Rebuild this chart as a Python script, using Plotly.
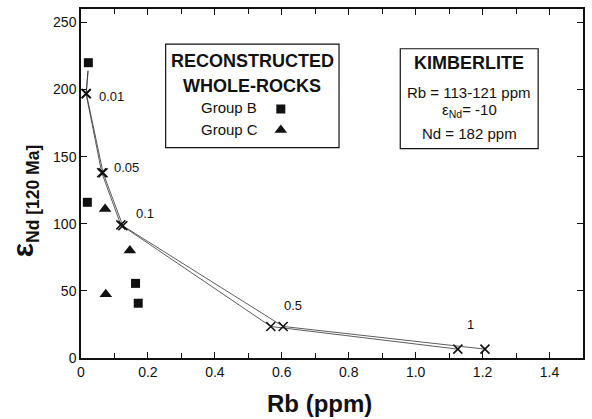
import plotly.graph_objects as go

# Reconstructed whole-rock data (Rb in ppm, epsilon Nd at 120 Ma)
group_b_rb = [0.022, 0.019, 0.163, 0.171]
group_b_eps = [220, 116, 55.6, 40.8]
group_c_rb = [0.072, 0.146, 0.074]
group_c_eps = [111, 80, 47.5]

# Kimberlite mixing curves (first point is the unmixed end-member)
mix_labels = ["0.01", "0.05", "0.1", "0.5", "1"]
curve_lo_rb = [0.021, 0.015, 0.062, 0.119, 0.567, 1.126]
curve_lo_eps = [214, 197, 138, 99.2, 23.5, 6.6]
curve_hi_rb = [0.021, 0.016, 0.066, 0.125, 0.604, 1.207]
curve_hi_eps = [214, 197, 138, 98.5, 23.5, 6.6]

# Where each mixing-fraction label sits
label_rb = [0.048, 0.092, 0.158, 0.601, 1.148]
label_eps = [195, 142, 108, 39, 25]

x_ticks = [0, 0.2, 0.4, 0.6, 0.8, 1.0, 1.2, 1.4]
x_tick_text = ["0", "0.2", "0.4", "0.6", "0.8", "1.0", "1.2", "1.4"]
y_ticks = [0, 50, 100, 150, 200, 250]

FONT = "Liberation Sans, Arial, Helvetica, sans-serif"
INK = "#111111"
LINE = "#333333"

fig = go.Figure()

for rb, eps in [(curve_lo_rb, curve_lo_eps), (curve_hi_rb, curve_hi_eps)]:
    fig.add_trace(go.Scatter(x=rb, y=eps, mode="lines",
                             line=dict(color=LINE, width=0.8),
                             showlegend=False, hoverinfo="skip"))
    fig.add_trace(go.Scatter(x=rb[1:], y=eps[1:], mode="markers",
                             marker=dict(symbol="x-thin", size=9,
                                         line=dict(color=INK, width=1.6)),
                             showlegend=False))

fig.add_trace(go.Scatter(x=group_b_rb, y=group_b_eps, mode="markers",
                         marker=dict(symbol="square", size=9, color=INK),
                         name="Group B", showlegend=False))
fig.add_trace(go.Scatter(x=group_c_rb, y=group_c_eps, mode="markers",
                         marker=dict(symbol="triangle-up", size=11, color=INK),
                         name="Group C", showlegend=False))

annotations = []
for txt, x, y in zip(mix_labels, label_rb, label_eps):
    annotations.append(dict(x=x, y=y, xref="x", yref="y", text=txt,
                            showarrow=False, xanchor="left", yanchor="middle",
                            font=dict(family=FONT, size=13, color=INK)))

# Box: reconstructed whole-rocks key
fig.add_shape(type="rect", xref="x", yref="y", x0=0.253, x1=0.771,
              y0=156.8, y1=233.9, line=dict(color=INK, width=1.2))
for txt, y in [("<b>RECONSTRUCTED</b>", 221.3), ("<b>WHOLE-ROCKS</b>", 202.7)]:
    annotations.append(dict(x=0.512, y=y, xref="x", yref="y", text=txt,
                            showarrow=False, xanchor="center", yanchor="middle",
                            font=dict(family=FONT, size=18, color=INK)))
for txt, y in [("Group B", 186.4), ("Group C", 170.6)]:
    annotations.append(dict(x=0.443, y=y, xref="x", yref="y", text=txt,
                            showarrow=False, xanchor="center", yanchor="middle",
                            font=dict(family=FONT, size=15, color=INK)))
fig.add_trace(go.Scatter(x=[0.597], y=[185.5], mode="markers",
                         marker=dict(symbol="square", size=9, color=INK),
                         showlegend=False, hoverinfo="skip"))
fig.add_trace(go.Scatter(x=[0.597], y=[169.8], mode="markers",
                         marker=dict(symbol="triangle-up", size=11, color=INK),
                         showlegend=False, hoverinfo="skip"))

# Box: kimberlite end-member
fig.add_shape(type="rect", xref="x", yref="y", x0=0.954, x1=1.366,
              y0=156.0, y1=230.4, line=dict(color=INK, width=1.2))
kimb_lines = [("<b>KIMBERLITE</b>", 219.5, 18),
              ("Rb = 113-121 ppm", 198.0, 15),
              ("ε<sub>Nd</sub>= -10", 184.5, 15),
              ("Nd = 182 ppm", 167.5, 15)]
for txt, y, size in kimb_lines:
    annotations.append(dict(x=1.16, y=y, xref="x", yref="y", text=txt,
                            showarrow=False, xanchor="center", yanchor="middle",
                            font=dict(family=FONT, size=size, color=INK)))

# Axis titles
annotations.append(dict(x=-0.113, y=0.45, xref="paper", yref="paper",
                        text="<b><span style='font-size:30px'>ε</span><sub>Nd [120 Ma]</sub></b>",
                        textangle=-90,
                        showarrow=False, xanchor="center", yanchor="middle",
                        font=dict(family=FONT, size=25, color=INK)))
annotations.append(dict(x=0.476, y=-0.13, xref="paper", yref="paper",
                        text="<b>Rb (ppm)</b>", showarrow=False,
                        xanchor="center", yanchor="middle",
                        font=dict(family=FONT, size=24, color=INK)))

axis_common = dict(showline=True, linecolor=INK, linewidth=1.5, mirror="allticks",
                   ticks="inside", ticklen=6, tickwidth=1.2, tickcolor=INK,
                   showgrid=False, zeroline=False,
                   tickfont=dict(family=FONT, size=14, color=INK))

fig.update_layout(
    width=592, height=419,
    margin=dict(l=81, r=7, t=7, b=61),
    paper_bgcolor="white", plot_bgcolor="white",
    xaxis=dict(range=[0, 1.5], tickvals=x_ticks, ticktext=x_tick_text,
               minor=dict(ticks="inside", dtick=0.1, ticklen=5, tickcolor=INK,
                          tickwidth=1.2),
               **axis_common),
    yaxis=dict(range=[0, 260], tickvals=y_ticks, **axis_common),
    annotations=annotations,
    showlegend=False,
)

fig.write_html("out.html")
